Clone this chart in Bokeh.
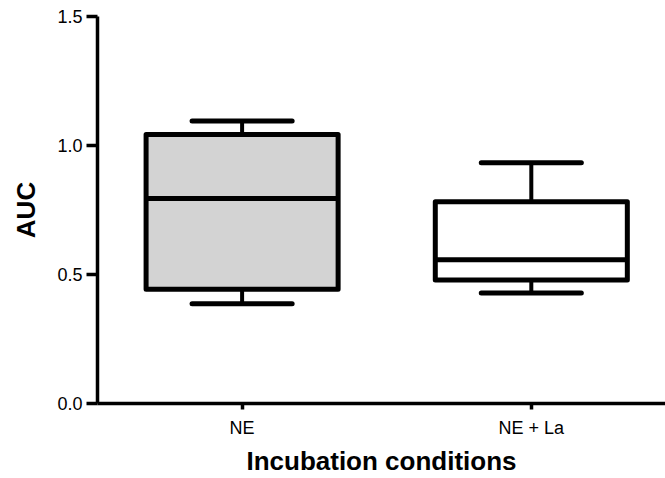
from bokeh.plotting import figure
from bokeh.models import Range1d, FixedTicker, ColumnDataSource
from bokeh.embed import file_html
from bokeh.resources import INLINE

# ---- data ----
categories = ["NE", "NE + La"]
positions = [1, 2]
q1 = [0.443, 0.479]
median = [0.795, 0.557]
q3 = [1.043, 0.782]
lower = [0.387, 0.428]
upper = [1.095, 0.933]
fills = ["#d3d3d3", "#ffffff"]
y_ticks = [0.0, 0.5, 1.0, 1.5]

BOX_W = 0.664
CAP_W = 0.346
FONT = "Liberation Sans"

src = ColumnDataSource(dict(
    x=positions, q1=q1, med=median, q3=q3, lo=lower, hi=upper, fill=fills,
    bl=[p - BOX_W / 2 for p in positions], br=[p + BOX_W / 2 for p in positions],
    cl=[p - CAP_W / 2 for p in positions], cr=[p + CAP_W / 2 for p in positions],
))

p = figure(width=665, height=478, output_backend="svg", toolbar_location=None,
           x_range=Range1d(0.5, 2.464), y_range=Range1d(0, 1.5),
           min_border_left=97, min_border_right=0, min_border_top=16,
           min_border_bottom=74)
p.outline_line_color = None
p.xgrid.visible = False
p.ygrid.visible = False

# whiskers
p.segment(x0="x", y0="q3", x1="x", y1="hi", source=src, line_color="black", line_width=4)
p.segment(x0="x", y0="q1", x1="x", y1="lo", source=src, line_color="black", line_width=4)
p.segment(x0="cl", y0="hi", x1="cr", y1="hi", source=src, line_color="black",
          line_width=5, line_cap="round")
p.segment(x0="cl", y0="lo", x1="cr", y1="lo", source=src, line_color="black",
          line_width=5, line_cap="round")
# boxes
p.vbar(x="x", width=BOX_W, bottom="q1", top="q3", source=src, fill_color="fill",
       line_color="black", line_width=5, line_join="round")
# medians
p.segment(x0="bl", y0="med", x1="br", y1="med", source=src, line_color="black", line_width=5)

# axes
p.yaxis.ticker = FixedTicker(ticks=y_ticks)
p.yaxis.major_label_overrides = {t: f"{t:.1f}" for t in y_ticks}
p.xaxis.ticker = FixedTicker(ticks=positions)
p.xaxis.major_label_overrides = {pos: c for pos, c in zip(positions, categories)}

for ax in (p.xaxis[0], p.yaxis[0]):
    ax.axis_line_width = 3.5
    ax.axis_line_color = "black"
    ax.major_tick_line_width = 3.5
    ax.major_tick_line_color = "black"
    ax.major_tick_in = 0
    ax.minor_tick_line_color = None
    ax.major_label_text_font = FONT
    ax.major_label_text_font_size = "18px"
    ax.major_label_text_color = "black"
    ax.axis_label_text_font = FONT
    ax.axis_label_text_font_style = "bold"
    ax.axis_label_text_font_size = "26px"
    ax.axis_label_text_color = "black"

p.yaxis.major_tick_out = 11
p.yaxis.major_label_standoff = 4
p.yaxis.axis_label = "AUC"
p.yaxis.axis_label_standoff = 13

p.xaxis.major_tick_out = 6
p.xaxis.major_label_standoff = 8
p.xaxis.axis_label = "Incubation conditions"
p.xaxis.axis_label_standoff = 5

open("out.html", "w").write(file_html(p, INLINE))
